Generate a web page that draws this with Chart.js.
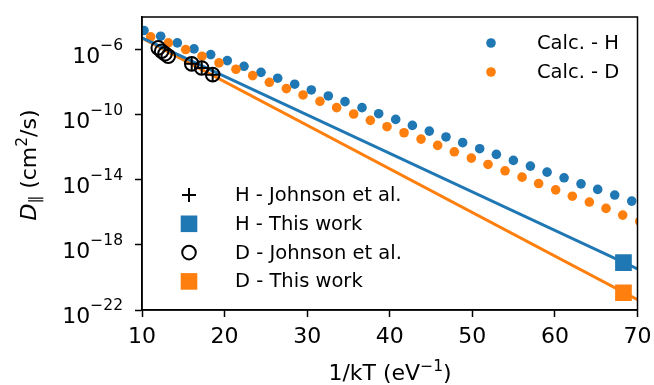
<!DOCTYPE html>
<html>
<head>
<meta charset="utf-8">
<script src="https://cdn.jsdelivr.net/npm/chart.js@4/dist/chart.umd.min.js"></script>
<style>
  html, body { margin: 0; padding: 0; background: #fff; }
  #wrap { width: 654px; height: 385px; }
</style>
</head>
<body>
<div id="wrap"><canvas id="diffusion"></canvas></div>
<script>
// DATA
const calcHx = [10.24, 12.26, 14.28, 16.30, 18.32, 20.33, 22.35, 24.41, 26.43, 28.49,
  30.50, 32.56, 34.58, 36.64, 38.66, 40.72, 42.74, 44.79, 46.81, 48.83,
  50.89, 52.91, 54.97, 57.03, 59.05, 61.11, 63.16, 65.18, 67.24, 69.30];
const calcHD = [1.48e-5, 6.61e-6, 2.57e-6, 1.10e-6, 4.90e-7, 2.09e-7, 9.33e-8, 3.98e-8, 1.74e-8, 7.41e-9,
  3.31e-9, 1.41e-9, 6.31e-10, 2.69e-10, 1.15e-10, 5.13e-11, 2.19e-11, 9.77e-12, 4.27e-12, 1.91e-12,
  8.13e-13, 3.63e-13, 1.55e-13, 6.92e-14, 2.95e-14, 1.32e-14, 5.62e-15, 2.57e-15, 1.15e-15, 4.90e-16];

const calcDx = [11.05, 13.19, 15.29, 17.27, 19.32, 21.38, 23.40, 25.42, 27.48, 29.50,
  31.55, 33.57, 35.63, 37.65, 39.67, 41.73, 43.79, 45.80, 47.82, 49.88,
  51.90, 53.96, 56.02, 58.03, 60.09, 62.11, 64.17, 66.19, 68.21, 70.27];
const calcDD = [6.03e-6, 2.57e-6, 1.00e-6, 3.89e-7, 1.51e-7, 6.17e-8, 2.51e-8, 9.77e-9, 3.98e-9, 1.62e-9,
  6.61e-10, 2.69e-10, 1.10e-10, 4.47e-11, 1.82e-11, 7.76e-12, 3.16e-12, 1.29e-12, 5.25e-13, 2.14e-13,
  8.71e-14, 3.55e-14, 1.45e-14, 5.89e-15, 2.40e-15, 9.77e-16, 4.27e-16, 1.74e-16, 6.76e-17, 2.75e-17];

const johnsonHx = [16.02, 17.23, 18.56];
const johnsonHD = [1.32e-7, 7.41e-8, 2.88e-8];
const johnsonDx = [11.97, 12.38, 12.78, 13.18, 16.02, 17.23, 18.56];
const johnsonDD = [1.26e-6, 7.94e-7, 5.50e-7, 3.89e-7, 1.32e-7, 7.41e-8, 2.88e-8];

const thisWorkX = [68.3];
const thisWorkHD = [8.13e-20];
const thisWorkDD = [1.15e-21];

// fitted lines, ends at the axis limits
const fitX = [10, 70];
const fitHD = [5.25e-6, 3.31e-20];
const fitDD = [5.01e-6, 4.27e-22];

const xTicks = [10, 20, 30, 40, 50, 60, 70];
const yTicks = [1e-22, 1e-18, 1e-14, 1e-10, 1e-6];

// COLORS
const blue = "#1f77b4";
const orange = "#ff7f0e";
const FONT = "'DejaVu Sans', 'Liberation Sans', sans-serif";
const BIG = 22;
const SMALL = 15.5;

const pts = (xs, ys) => xs.map((x, i) => ({ x: x, y: ys[i] }));

function drawMarker(ctx, kind, x, y, color) {
  ctx.save();
  if (kind === "dot") {
    ctx.fillStyle = color;
    ctx.beginPath();
    ctx.arc(x, y, 4.8, 0, Math.PI * 2);
    ctx.fill();
  } else if (kind === "square") {
    ctx.fillStyle = color;
    ctx.fillRect(x - 8.3, y - 8.3, 16.6, 16.6);
  } else if (kind === "circle") {
    ctx.strokeStyle = color;
    ctx.lineWidth = 2;
    ctx.beginPath();
    ctx.arc(x, y, 6.8, 0, Math.PI * 2);
    ctx.stroke();
  } else if (kind === "plus") {
    ctx.strokeStyle = color;
    ctx.lineWidth = 2;
    ctx.beginPath();
    ctx.moveTo(x - 7, y);
    ctx.lineTo(x + 7, y);
    ctx.moveTo(x, y - 7);
    ctx.lineTo(x, y + 7);
    ctx.stroke();
  }
  ctx.restore();
}

// text runs with sizes and baseline shifts, like mathtext
function richWidth(ctx, parts) {
  let w = 0;
  parts.forEach((p) => {
    ctx.font = (p.italic ? "italic " : "") + p.size + "px " + FONT;
    p.w = ctx.measureText(p.t).width;
    w += p.w;
  });
  return w;
}
function drawRich(ctx, parts, x, y) {
  ctx.textAlign = "left";
  ctx.textBaseline = "alphabetic";
  parts.forEach((p) => {
    ctx.font = (p.italic ? "italic " : "") + p.size + "px " + FONT;
    ctx.fillText(p.t, x, y + (p.dy || 0));
    x += p.w;
  });
}

// legends, frame, tick labels and axis titles
const decor = {
  id: "decor",
  afterDatasetsDraw(chart) {
    const ctx = chart.ctx;
    const a = chart.chartArea;
    ctx.save();
    ctx.strokeStyle = "#000";
    ctx.lineWidth = 1.5;
    ctx.strokeRect(a.left, a.top, a.right - a.left, a.bottom - a.top);
    ctx.restore();
  },
  afterDraw(chart) {
    const ctx = chart.ctx;
    ctx.save();
    ctx.fillStyle = "#000";

    // y tick labels 10^-n
    const ys = chart.scales.y;
    yTicks.forEach((v) => {
      const py = ys.getPixelForValue(v);
      const parts = [
        { t: "10", size: BIG, dy: 13 },
        { t: "\u2212" + Math.abs(Math.round(Math.log10(v))), size: SMALL, dy: 0 },
      ];
      const w = richWidth(ctx, parts);
      drawRich(ctx, parts, 123 - w, py);
    });

    // legends
    ctx.font = "19.5px " + FONT;
    ctx.textBaseline = "middle";
    ctx.textAlign = "left";
    const topLegend = [
      { kind: "dot", color: blue, text: "Calc. - H" },
      { kind: "dot", color: orange, text: "Calc. - D" },
    ];
    topLegend.forEach((it, i) => {
      const y = 43 + i * 29;
      drawMarker(ctx, it.kind, 491, y, it.color);
      ctx.fillText(it.text, 537, y + 1);
    });

    const bottomLegend = [
      { kind: "plus", color: "#000", text: "H - Johnson et al." },
      { kind: "square", color: blue, text: "H - This work" },
      { kind: "circle", color: "#000", text: "D - Johnson et al." },
      { kind: "square", color: orange, text: "D - This work" },
    ];
    bottomLegend.forEach((it, i) => {
      const y = 195 + i * 28.8;
      drawMarker(ctx, it.kind, 189, y, it.color);
      ctx.fillText(it.text, 235, y + 1);
    });

    // x title
    const xt = [
      { t: "1/kT (eV", size: BIG },
      { t: "\u22121", size: SMALL, dy: -9 },
      { t: ")", size: BIG },
    ];
    const xw = richWidth(ctx, xt);
    drawRich(ctx, xt, 390 - xw / 2, 380);

    // y title, italic D with subscript
    ctx.translate(36, 165);
    ctx.rotate(-Math.PI / 2);
    const yt = [
      { t: "D", size: BIG, italic: true },
      { t: "\u2225", size: SMALL, dy: 4 },
      { t: " (cm", size: BIG },
      { t: "2", size: SMALL, dy: -9 },
      { t: "/s)", size: BIG },
    ];
    const yw = richWidth(ctx, yt);
    drawRich(ctx, yt, -yw / 2, 0);
    ctx.restore();
  },
};

const ctx = document.getElementById("diffusion").getContext("2d");

new Chart(ctx, {
  type: "scatter",
  data: {
    datasets: [
      { label: "Calc. - H", data: pts(calcHx, calcHD), backgroundColor: blue,
        pointRadius: 4.8, borderWidth: 0, order: 6, clip: 0 },
      { label: "Calc. - D", data: pts(calcDx, calcDD), backgroundColor: orange,
        pointRadius: 4.8, borderWidth: 0, order: 5, clip: 0 },
      { type: "line", label: "H fit", data: pts(fitX, fitHD), borderColor: blue,
        borderWidth: 3, pointRadius: 0, order: 4, clip: 0 },
      { type: "line", label: "D fit", data: pts(fitX, fitDD), borderColor: orange,
        borderWidth: 3, pointRadius: 0, order: 4, clip: 0 },
      { label: "D - Johnson et al.", data: pts(johnsonDx, johnsonDD), pointStyle: "circle",
        pointRadius: 6.8, backgroundColor: "rgba(0,0,0,0)", borderColor: "#000", borderWidth: 2, order: 2 },
      { label: "H - Johnson et al.", data: pts(johnsonHx, johnsonHD), pointStyle: "cross",
        pointRadius: 7, borderColor: "#000", borderWidth: 2, order: 2 },
      { label: "H - This work", data: pts(thisWorkX, thisWorkHD), pointStyle: "rect",
        pointRadius: 11.8, backgroundColor: blue, borderWidth: 0, order: 1 },
      { label: "D - This work", data: pts(thisWorkX, thisWorkDD), pointStyle: "rect",
        pointRadius: 11.8, backgroundColor: orange, borderWidth: 0, order: 1 },
    ],
  },
  options: {
    responsive: true,
    maintainAspectRatio: false,
    animation: false,
    devicePixelRatio: 1,
    events: [],
    layout: { padding: { top: 17, right: 16.5, left: 0, bottom: 0 } },
    scales: {
      x: {
        type: "linear",
        min: 10,
        max: 70,
        afterBuildTicks: (s) => { s.ticks = xTicks.map((v) => ({ value: v })); },
        afterFit: (s) => {
          s.height = 75;
          s.paddingLeft = 0;
          s.paddingRight = 0;
        },
        ticks: { color: "#000", font: { family: FONT, size: BIG }, padding: 7, maxRotation: 0 },
        grid: { drawOnChartArea: false, tickLength: 7, tickColor: "#000", tickWidth: 1.5 },
        border: { color: "#000", width: 1.5 },
      },
      y: {
        type: "logarithmic",
        min: 1e-22,
        max: 1e-4,
        afterBuildTicks: (s) => { s.ticks = yTicks.map((v) => ({ value: v })); },
        afterFit: (s) => {
          s.width = 142;
          s.paddingTop = 0;
          s.paddingBottom = 0;
        },
        ticks: { display: false },
        grid: { drawOnChartArea: false, tickLength: 7, tickColor: "#000", tickWidth: 1.5 },
        border: { color: "#000", width: 1.5 },
      },
    },
    plugins: {
      legend: { display: false },
      tooltip: { enabled: false },
    },
  },
  plugins: [decor],
});
</script>
</body>
</html>
